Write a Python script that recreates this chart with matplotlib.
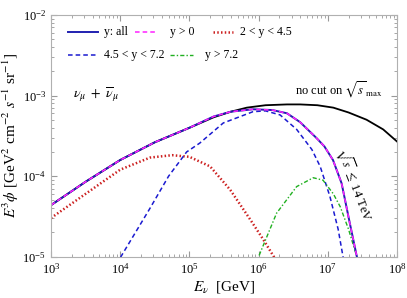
"""
Neutrino flux E^3 phi vs E_nu, split by rapidity bins
"""
import numpy as np
import matplotlib.pyplot as plt

plt.rcParams['font.family'] = ['Liberation Serif', 'DejaVu Serif']
plt.rcParams['mathtext.fontset'] = 'stix'

# log10(E/GeV), log10(E^3 phi)
all_logE = [3.0, 3.5, 4.0, 4.5, 5.0, 5.35, 5.6, 5.92, 6.2, 6.41, 6.6, 6.84, 6.95, 7.075, 7.2, 7.31, 7.42, 7.45]
all_logF = [-4.36, -4.07, -3.80, -3.58, -3.40, -3.26, -3.20, -3.17, -3.18, -3.22, -3.33, -3.53, -3.63, -3.80, -4.09, -4.55, -5.0, -5.2]

nocut_logE = [3.0, 3.5, 4.0, 4.5, 5.0, 5.35, 5.6, 5.83, 6.1, 6.41, 6.6, 6.85, 7.08, 7.3, 7.56, 7.8, 8.0]
nocut_logF = [-4.36, -4.07, -3.80, -3.58, -3.40, -3.27, -3.20, -3.15, -3.12, -3.11, -3.11, -3.12, -3.15, -3.21, -3.30, -3.42, -3.57]

red_logE = [3.0, 3.5, 4.0, 4.43, 4.75, 5.0, 5.30, 5.59, 5.88, 6.07, 6.22, 6.26]
red_logF = [-4.52, -4.22, -3.92, -3.77, -3.74, -3.76, -3.88, -4.17, -4.54, -4.79, -5.0, -5.1]

bdash_logE = [3.98, 4.01, 4.43, 4.7, 4.96, 5.15, 5.49, 5.92, 6.1, 6.31, 6.55, 6.77, 6.89, 7.03, 7.15, 7.22, 7.25]
bdash_logF = [-5.1, -5.0, -4.40, -4.00, -3.70, -3.59, -3.34, -3.20, -3.19, -3.24, -3.42, -3.67, -3.88, -4.25, -4.66, -5.0, -5.1]

green_logE = [5.97, 6.0, 6.26, 6.55, 6.79, 6.93, 7.08, 7.18, 7.30, 7.42, 7.45]
green_logF = [-5.1, -5.0, -4.46, -4.13, -4.02, -4.05, -4.22, -4.38, -4.66, -5.0, -5.1]

fig = plt.figure(figsize=(4.07, 2.98), dpi=100)
ax = fig.add_axes([0.1253, 0.1386, 0.8501, 0.8111])

def p(lx, ly):
    return 10 ** np.array(lx), 10 ** np.array(ly)

ax.plot(*p(nocut_logE, nocut_logF), color='black', lw=1.3)
ax.plot(*p(red_logE, red_logF), color='#cc2020', lw=1.8, ls=(0, (0.6, 0.9)))
ax.plot(*p(bdash_logE, bdash_logF), color='#1a1ad0', lw=1.1, ls=(0, (3, 2)))
ax.plot(*p(green_logE, green_logF), color='#20b020', lw=1.0, ls=(0, (3, 1.5, 1, 1.5)))
ax.plot(*p(all_logE, all_logF), color='#2020b0', lw=1.4)
ax.plot(*p(all_logE, all_logF), color='#ff20ff', lw=1.1, ls=(0, (3, 2)))

ax.set_xscale('log')
ax.set_yscale('log')
ax.set_xlim(1e3, 1e8)
ax.set_ylim(1e-5, 1e-2)

for s in ax.spines.values():
    s.set_color('#b0b0b0')
ax.tick_params(which='both', direction='in', top=True, right=True, color='#999999',
               labelsize=9)
ax.tick_params(which='major', length=4)
ax.tick_params(which='minor', length=2)

ax.set_xlabel(r'$E_\nu$  [GeV]', fontsize=11, labelpad=2)
ax.set_ylabel(r'$E^3\phi$ [GeV$^2$ cm$^{-2}$ $s^{-1}$ sr$^{-1}$]', fontsize=11, labelpad=1)

# legend, drawn by hand to keep the uneven spacing
tr = ax.transAxes
def entry(x0, x1, y, xt, label, **kw):
    ax.plot([x0, x1], [y, y], transform=tr, **kw)
    ax.text(xt, y, label, transform=tr, va='center', ha='left', fontsize=8.5)

y1, y2 = 0.928, 0.834
entry(0.049, 0.136, y1, 0.153, 'y: all', color='#2020b0', lw=1.4)
entry(0.243, 0.306, y1, 0.344, 'y > 0', color='#ff20ff', lw=1.1, ls=(0, (3, 2)))
entry(0.468, 0.526, y1, 0.546, '2 < y < 4.5', color='#cc2020', lw=1.8, ls=(0, (0.6, 0.9)))
entry(0.049, 0.136, y2, 0.153, '4.5 < y < 7.2', color='#1a1ad0', lw=1.1, ls=(0, (3, 2)))
entry(0.344, 0.410, y2, 0.445, 'y > 7.2', color='#20b020', lw=1.0, ls=(0, (3, 1.5, 1, 1.5)))

ax.text(0.065, 0.655, r'$\nu_\mu\ +\ \overline{\nu}_\mu$', transform=tr, fontsize=10)
ax.text(0.705, 0.67, r'no cut on $\sqrt{s}_{\,\mathrm{max}}$', transform=tr, fontsize=9)
ax.text(0.877, 0.30, r'$\sqrt{s}\ \leq$ 14 TeV', transform=tr, fontsize=9,
        rotation=-69, ha='center', va='center', rotation_mode='anchor')

fig.savefig('out.png', dpi=100)
